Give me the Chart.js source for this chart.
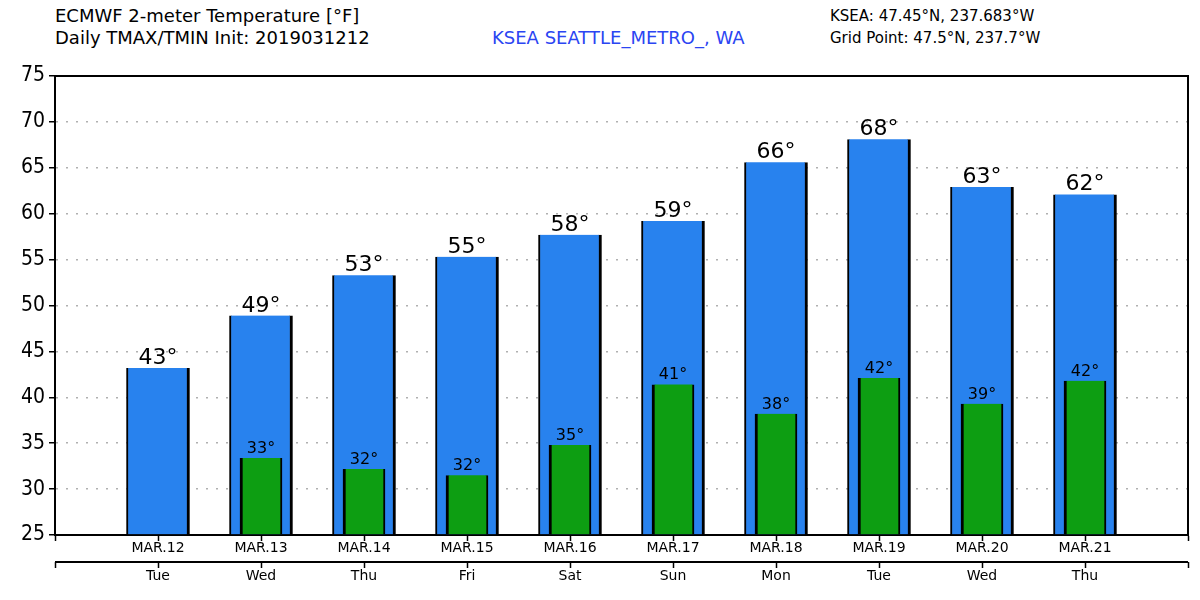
<!DOCTYPE html>
<html lang="en">
<head>
    <meta charset="UTF-8">
    <title>ECMWF 2-meter Temperature</title>
    <style>
        body {
            margin: 0;
            background: #fff;
            font-family: 'DejaVu Sans', sans-serif;
        }
        #wrap {
            position: relative;
            width: 1200px;
            height: 600px;
        }
        .hdr {
            position: absolute;
            color: #000;
            white-space: nowrap;
            line-height: 1;
        }
        #grafico {
            position: absolute;
            left: 0;
            top: 0;
        }
    </style>
    <script src="https://cdn.jsdelivr.net/npm/chart.js"></script>
</head>
<body>

<div id="wrap">
    <div class="hdr" style="left:55px; top:7px; font-size:18px;">ECMWF 2-meter Temperature [°F]</div>
    <div class="hdr" style="left:55px; top:29px; font-size:18px;">Daily TMAX/TMIN Init: 2019031212</div>
    <div class="hdr" style="left:492px; top:29px; font-size:18px; color:#2b45f2;">KSEA SEATTLE_METRO_, WA</div>
    <div class="hdr" style="left:830px; top:9px; font-size:15px;">KSEA: 47.45°N, 237.683°W</div>
    <div class="hdr" style="left:830px; top:31px; font-size:15px;">Grid Point: 47.5°N, 237.7°W</div>
    <canvas id="grafico" width="1200" height="600"></canvas>
</div>

<script>
// datos
const fechas = ['MAR.12', 'MAR.13', 'MAR.14', 'MAR.15', 'MAR.16', 'MAR.17', 'MAR.18', 'MAR.19', 'MAR.20', 'MAR.21'];
const dias = ['Tue', 'Wed', 'Thu', 'Fri', 'Sat', 'Sun', 'Mon', 'Tue', 'Wed', 'Thu'];
const tmax = [43.2, 48.9, 53.3, 55.3, 57.7, 59.2, 65.6, 68.1, 62.9, 62.1];
const tmin = [null, 33.4, 32.2, 31.5, 34.8, 41.4, 38.2, 42.1, 39.3, 41.8];
const yTicks = [25, 30, 35, 40, 45, 50, 55, 60, 65, 70, 75];

const azul = '#2882ee';
const verde = '#0d9e12';

// etiquetas encima de las barras + marco + segundo eje
const extras = {
    id: 'extras',
    afterDatasetsDraw(chart) {
        const ctx = chart.ctx;
        const area = chart.chartArea;
        ctx.save();
        ctx.fillStyle = '#000';
        ctx.textAlign = 'center';
        ctx.textBaseline = 'alphabetic';
        const sets = [{ i: 0, size: 22, gap: 4 }, { i: 1, size: 16, gap: 5 }];
        sets.forEach(s => {
            const meta = chart.getDatasetMeta(s.i);
            const vals = chart.data.datasets[s.i].data;
            ctx.font = s.size + "px 'DejaVu Sans'";
            meta.data.forEach((bar, k) => {
                if (vals[k].y == null) return;
                ctx.fillText(Math.round(vals[k].y) + '°', bar.x, bar.y - s.gap);
            });
        });

        // marco arriba y derecha
        ctx.strokeStyle = '#000';
        ctx.lineWidth = 2;
        ctx.beginPath();
        ctx.moveTo(area.left, area.top);
        ctx.lineTo(area.right, area.top);
        ctx.lineTo(area.right, area.bottom);
        ctx.stroke();

        // segundo eje (dias)
        const x = chart.scales.x;
        const yLine = area.bottom + 27;
        ctx.beginPath();
        ctx.moveTo(area.left, yLine);
        ctx.lineTo(area.right, yLine);
        ctx.stroke();
        ctx.lineWidth = 1.5;
        for (let v = -1; v <= fechas.length; v++) {
            const px = Math.round(x.getPixelForValue(v)) + 0.5;
            ctx.beginPath();
            ctx.moveTo(px, yLine);
            ctx.lineTo(px, yLine + 6);
            ctx.stroke();
        }
        ctx.restore();
    }
};

const ctx = document.getElementById('grafico').getContext('2d');
new Chart(ctx, {
    type: 'bar',
    data: {
        datasets: [{
            label: 'TMAX',
            data: tmax.map((v, i) => ({ x: i, y: v })),
            backgroundColor: azul,
            borderColor: '#000',
            borderWidth: { left: 2, right: 3, top: 0, bottom: 0 },
            borderSkipped: false,
            barThickness: 63,
            base: 25,
            grouped: false,
            order: 2
        }, {
            label: 'TMIN',
            data: tmin.map((v, i) => ({ x: i, y: v })),
            backgroundColor: verde,
            borderColor: '#000',
            borderWidth: { left: 3, right: 2, top: 0, bottom: 0 },
            borderSkipped: false,
            barThickness: 42,
            base: 25,
            grouped: false,
            order: 1
        }]
    },
    options: {
        responsive: false,
        animation: false,
        layout: { padding: { top: 76, right: 12, left: 0, bottom: 0 } },
        plugins: {
            legend: { display: false },
            tooltip: { enabled: false }
        },
        scales: {
            x: {
                type: 'linear',
                min: -1,
                max: fechas.length,
                offset: false,
                afterFit: s => { s.height = 65; },
                afterBuildTicks: s => {
                    s.ticks = [];
                    for (let v = -1; v <= fechas.length; v++) s.ticks.push({ value: v });
                },
                grid: {
                    offset: false,
                    drawOnChartArea: false,
                    drawTicks: true,
                    tickLength: 6,
                    tickColor: '#000',
                    tickWidth: 1.5
                },
                border: { display: true, color: '#000', width: 2 },
                ticks: {
                    autoSkip: false,
                    maxRotation: 0,
                    padding: -7,
                    color: '#000',
                    font: { family: "'DejaVu Sans'", size: 14, lineHeight: 2 },
                    callback: v => (v >= 0 && v < fechas.length) ? [fechas[v], dias[v]] : ''
                }
            },
            y: {
                min: 25,
                max: 75,
                afterFit: s => { s.width = 55; },
                afterBuildTicks: s => { s.ticks = yTicks.map(v => ({ value: v })); },
                grid: {
                    color: ctx => (ctx.tick && (ctx.tick.value === 25 || ctx.tick.value === 75)) ? 'rgba(0,0,0,0)' : '#b0b0b0',
                    lineWidth: 1.5,
                    drawTicks: true,
                    tickLength: 6,
                    tickColor: '#000',
                    tickWidth: 1.5
                },
                border: { display: true, color: '#000', width: 2, dash: [2, 8] },
                ticks: {
                    padding: 4,
                    color: '#000',
                    font: { family: "'DejaVu Sans Condensed', 'DejaVu Sans'", size: 21 }
                }
            }
        }
    },
    plugins: [extras]
});
</script>

</body>
</html>
